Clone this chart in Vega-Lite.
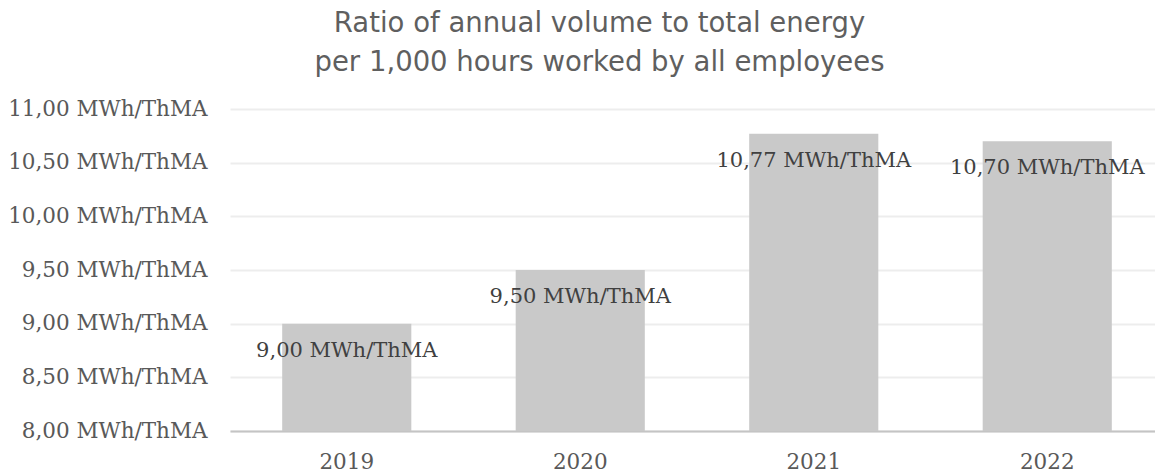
{
  "$schema": "https://vega.github.io/schema/vega-lite/v6.json",
  "autosize": {"type": "none"},
  "padding": {"left": 230, "top": 109, "right": 0, "bottom": 43},
  "width": 925,
  "height": 322,
  "background": "white",
  "title": {
    "text": ["Ratio of annual volume to total energy", "per 1,000 hours worked by all employees"],
    "font": "DejaVu Sans",
    "fontSize": 27.5,
    "fontWeight": "normal",
    "color": "#5f5f5f",
    "lineHeight": 39,
    "anchor": "middle",
    "dx": -93,
    "offset": 22
  },
  "data": {
    "values": [
      {"year": "2019", "value": 9.00},
      {"year": "2020", "value": 9.50},
      {"year": "2021", "value": 10.77},
      {"year": "2022", "value": 10.70}
    ]
  },
  "transform": [
    {"calculate": "replace(format(datum.value, '.2f'), '.', ',') + ' MWh/ThMA'", "as": "label"}
  ],
  "encoding": {
    "x": {
      "field": "year",
      "type": "nominal",
      "scale": {"range": [0, 934], "paddingInner": 0.447, "paddingOuter": 0.2235},
      "axis": {
        "title": null,
        "labelAngle": 0,
        "ticks": false,
        "labelPadding": 20,
        "labelFont": "DejaVu Serif",
        "labelFontSize": 21.5,
        "labelColor": "#595959",
        "domainColor": "#c4c4c4",
        "domainWidth": 2,
        "grid": false
      }
    },
    "y": {
      "field": "value",
      "type": "quantitative",
      "scale": {"domain": [8, 11], "zero": false, "nice": false},
      "axis": {
        "title": null,
        "values": [8, 8.5, 9, 9.5, 10, 10.5, 11],
        "labelExpr": "replace(format(datum.value, '.2f'), '.', ',') + ' MWh/ThMA'",
        "ticks": false,
        "domain": false,
        "labelPadding": 23,
        "labelLimit": 400,
        "labelFont": "DejaVu Serif",
        "labelFontSize": 21.5,
        "labelColor": "#595959",
        "gridColor": "#ededed",
        "gridWidth": 2
      }
    }
  },
  "layer": [
    {
      "mark": {"type": "bar", "color": "#c9c9c9"},
      "encoding": {"y2": {"datum": 8}}
    },
    {
      "mark": {"type": "text", "font": "DejaVu Serif", "fontSize": 21, "color": "#404040", "baseline": "middle", "dy": 27},
      "encoding": {"text": {"field": "label"}}
    }
  ],
  "config": {"view": {"stroke": null}}
}
